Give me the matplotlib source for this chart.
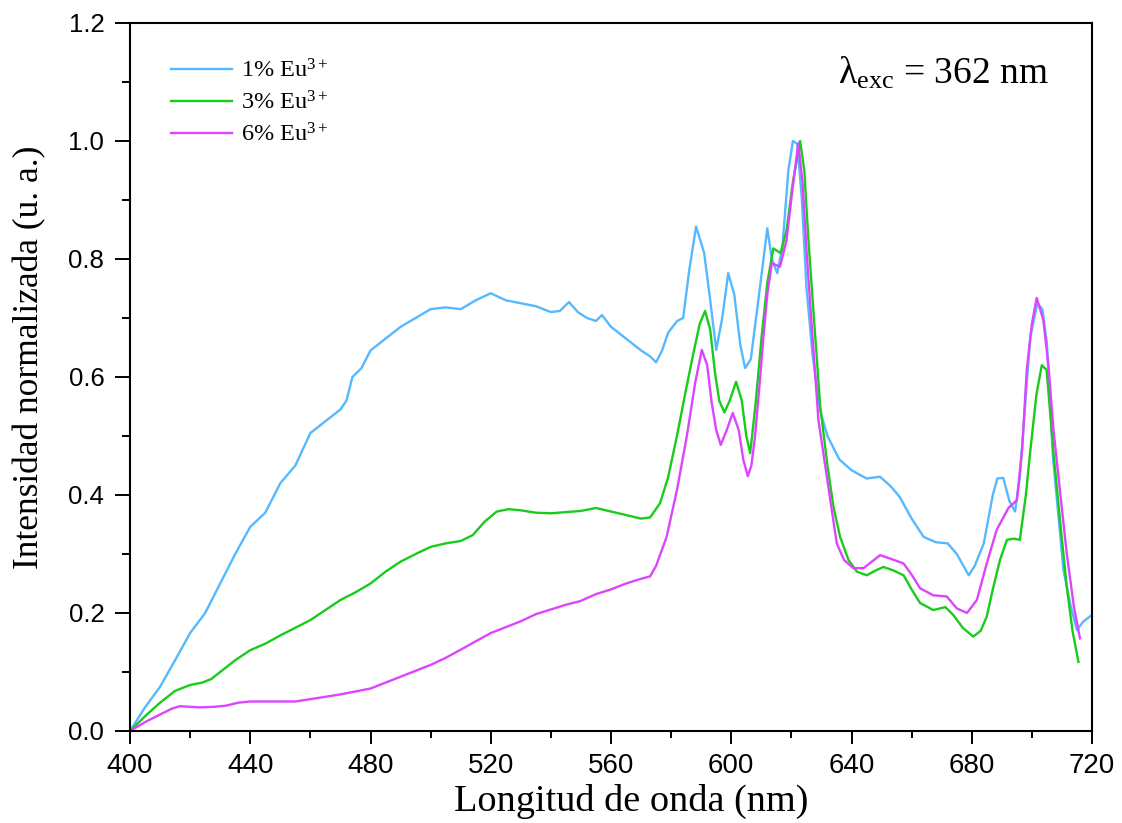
import matplotlib
matplotlib.use("Agg")
import matplotlib.pyplot as plt
from matplotlib.ticker import MultipleLocator

# ---- data ----
wl_1 = [400, 405, 410, 415, 420, 425, 430, 435, 440, 445, 450, 455, 460, 465, 470, 472, 474, 477,
        480, 485, 490, 495, 500, 505, 510, 515, 520, 525, 530, 535, 540, 543, 546, 549, 552, 555,
        557, 560, 565, 570, 573, 575, 577, 579, 582, 584, 586, 588.3, 591, 593, 595, 597, 599, 601,
        603, 604.6, 606.5, 609, 612, 613.5, 615.3, 617, 619, 620.5, 622, 623.5, 625, 627, 629.5,
        632, 636, 640, 645, 649.5, 653, 656, 660, 664, 668, 672, 675, 679, 681, 684, 687, 688.5,
        690.5, 692.5, 694.4, 696, 698, 699.5, 701.8, 703.5, 705, 707, 710.5, 713, 715, 717, 720]
int_1 = [0, 0.04, 0.075, 0.12, 0.166, 0.20, 0.25, 0.30, 0.346, 0.37, 0.42, 0.45, 0.505, 0.525,
         0.545, 0.56, 0.60, 0.615, 0.645, 0.665, 0.685, 0.70, 0.715, 0.718, 0.715, 0.73, 0.742,
         0.73, 0.725, 0.72, 0.71, 0.712, 0.727, 0.71, 0.70, 0.695, 0.705, 0.685, 0.665, 0.645,
         0.635, 0.625, 0.645, 0.675, 0.695, 0.70, 0.78, 0.855, 0.81, 0.73, 0.646, 0.70, 0.776,
         0.74, 0.655, 0.615, 0.63, 0.73, 0.852, 0.80, 0.776, 0.82, 0.95, 1.0, 0.995, 0.90, 0.753,
         0.64, 0.544, 0.50, 0.46, 0.442, 0.428, 0.431, 0.415, 0.397, 0.36, 0.329, 0.32, 0.318,
         0.30, 0.264, 0.28, 0.318, 0.40, 0.428, 0.429, 0.39, 0.372, 0.43, 0.57, 0.668, 0.725,
         0.715, 0.657, 0.465, 0.273, 0.21, 0.171, 0.185, 0.197]

wl_3 = [400, 405, 410, 415, 420, 424, 427, 430, 435, 440, 445, 450, 455, 460, 465, 470, 475, 480,
        485, 490, 495, 500, 505, 510, 514, 518, 522, 526, 530, 535, 540, 545, 550, 555, 560, 565,
        570, 573, 576.3, 579, 581.9, 585, 587.4, 589.5, 591.3, 593, 594.6, 596, 597.7, 599.5,
        601.6, 603.5, 605, 606.3, 608, 610.1, 612, 614, 616.4, 618.4, 620.5, 622.9, 624.3, 625.6,
        627.5, 629.6, 632, 634, 636.2, 639, 641.8, 645.1, 648, 650.6, 654, 657.3, 660, 662.8,
        667.2, 671.2, 673.8, 677, 680.5, 683, 685, 687, 689.4, 691.7, 694, 696, 698, 699.4,
        701.5, 703.3, 704.9, 707.2, 709.5, 711.6, 713.5, 715.5]
int_3 = [0, 0.025, 0.048, 0.068, 0.078, 0.082, 0.088, 0.10, 0.12, 0.137, 0.148, 0.162, 0.175,
         0.188, 0.205, 0.222, 0.235, 0.25, 0.27, 0.287, 0.30, 0.312, 0.318, 0.322, 0.332, 0.355,
         0.372, 0.376, 0.374, 0.37, 0.369, 0.371, 0.373, 0.378, 0.372, 0.366, 0.36, 0.362, 0.386,
         0.43, 0.499, 0.58, 0.64, 0.69, 0.712, 0.68, 0.607, 0.56, 0.54, 0.56, 0.592, 0.56, 0.50,
         0.471, 0.55, 0.668, 0.76, 0.818, 0.81, 0.849, 0.93, 1.0, 0.95, 0.838, 0.70, 0.55, 0.45,
         0.38, 0.329, 0.29, 0.27, 0.264, 0.272, 0.278, 0.272, 0.264, 0.24, 0.217, 0.205, 0.21,
         0.197, 0.175, 0.16, 0.17, 0.194, 0.24, 0.29, 0.324, 0.326, 0.324, 0.40, 0.471, 0.57,
         0.62, 0.612, 0.471, 0.35, 0.245, 0.17, 0.117]

wl_6 = [400, 405, 410, 414, 416.6, 420, 423.3, 428, 432, 436, 440, 445, 450, 455, 460, 465, 470,
        475, 480, 485, 490, 493, 500, 505, 510.8, 515, 520, 524, 530, 535, 540, 545, 549.7, 555,
        560, 565, 570, 573, 575, 578.5, 582, 585.2, 588, 590.2, 592, 593.5, 595, 596.5, 598.5,
        600.5, 602.5, 604, 605.5, 606.7, 607.9, 609.3, 610.7, 612, 613.5, 616.2, 618.4, 620.4,
        622.3, 623.7, 625.1, 627, 629, 631.8, 635.1, 637.5, 640.6, 644, 647, 649.5, 653, 657.3,
        660, 662.8, 667.2, 671.7, 675, 678.4, 681.7, 685, 688.3, 692.2, 695, 696.8, 698.3, 700,
        701.6, 703.8, 705.5, 707.2, 709.5, 711.6, 714, 716]
int_6 = [0, 0.015, 0.028, 0.038, 0.042, 0.041, 0.040, 0.041, 0.043, 0.048, 0.05, 0.05, 0.05,
         0.05, 0.054, 0.058, 0.062, 0.067, 0.072, 0.082, 0.092, 0.098, 0.112, 0.124, 0.14, 0.152,
         0.166, 0.174, 0.186, 0.198, 0.206, 0.214, 0.22, 0.232, 0.24, 0.25, 0.258, 0.262, 0.28,
         0.329, 0.41, 0.499, 0.59, 0.646, 0.62, 0.556, 0.51, 0.485, 0.51, 0.539, 0.51, 0.46,
         0.432, 0.45, 0.499, 0.58, 0.668, 0.74, 0.793, 0.787, 0.832, 0.92, 0.996, 0.93, 0.81,
         0.67, 0.527, 0.431, 0.318, 0.29, 0.276, 0.276, 0.288, 0.298, 0.292, 0.284, 0.265, 0.242,
         0.23, 0.228, 0.208, 0.2, 0.222, 0.284, 0.341, 0.378, 0.391, 0.48, 0.612, 0.69, 0.734,
         0.697, 0.62, 0.51, 0.40, 0.301, 0.21, 0.157]

labels = ["1% Eu$^{3+}$", "3% Eu$^{3+}$", "6% Eu$^{3+}$"]
colors = ["#55B9FF", "#19CC19", "#DD44FF"]
x_ticks = [400, 440, 480, 520, 560, 600, 640, 680, 720]
y_ticks = [0.0, 0.2, 0.4, 0.6, 0.8, 1.0, 1.2]

plt.rcParams["mathtext.fontset"] = "custom"
plt.rcParams["mathtext.rm"] = "Liberation Serif"
plt.rcParams["mathtext.it"] = "Liberation Serif:italic"
plt.rcParams["mathtext.bf"] = "Liberation Serif:bold"

fig = plt.figure(figsize=(11.22, 8.23), dpi=100)
ax = fig.add_axes([130 / 1122, 1 - 731 / 823, 962 / 1122, 708 / 823])

for wl, val, lab, c in zip([wl_1, wl_3, wl_6], [int_1, int_3, int_6], labels, colors):
    ax.plot(wl, val, color=c, lw=1.7, label=lab)

ax.set_xlim(400, 720)
ax.set_ylim(0, 1.2)
ax.set_xticks(x_ticks)
ax.set_yticks(y_ticks)
ax.set_xticklabels([str(t) for t in x_ticks])
ax.set_yticklabels([f"{t:.1f}" for t in y_ticks])
ax.xaxis.set_minor_locator(MultipleLocator(20))
ax.yaxis.set_minor_locator(MultipleLocator(0.1))
ax.tick_params(which="both", direction="out", width=1.4, top=False, right=False)
ax.tick_params(axis="x", which="major", length=9.5, labelsize=20, pad=6)
ax.tick_params(axis="x", which="minor", length=5)
ax.tick_params(axis="y", which="major", length=10.5, labelsize=18.5, pad=8)
ax.tick_params(axis="y", which="minor", length=5.5)
for lab in ax.get_xticklabels() + ax.get_yticklabels():
    lab.set_family("Liberation Sans")
for s in ax.spines.values():
    s.set_linewidth(1.5)

ax.set_xlabel("Longitud de onda (nm)", family="Liberation Serif", fontsize=27.5)
ax.xaxis.set_label_coords((631 - 130) / 962, -0.075)
ax.set_ylabel("Intensidad normalizada (u. a.)", family="Liberation Serif", fontsize=25.5)
ax.yaxis.set_label_coords(-0.087, (731 - 357) / 708)

leg = ax.legend(loc="upper left", bbox_to_anchor=(0.033, 0.962), frameon=False,
                prop={"family": "Liberation Serif", "size": 17.5},
                handlelength=2.5, handletextpad=0.35, labelspacing=0.36, borderaxespad=0)

ax.text(635.5, 1.115, "λ$_{\\mathrm{exc}}$ = 362 nm", family="Liberation Serif", fontsize=27,
        ha="left", va="center")

fig.savefig("out.png", dpi=100)
